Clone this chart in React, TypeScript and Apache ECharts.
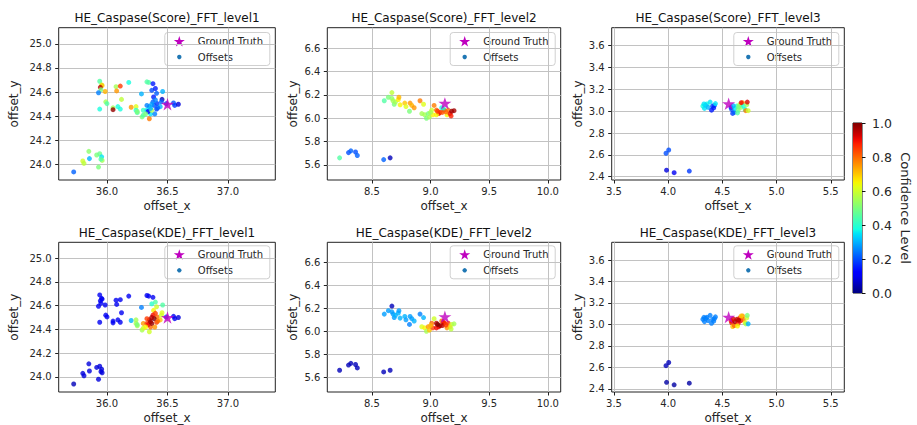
import React, { useEffect, useRef } from 'react';
import * as echarts from 'echarts';

const FONT = 'DejaVu Sans';

const panelTitles = [
  'HE_Caspase(Score)_FFT_level1',
  'HE_Caspase(Score)_FFT_level2',
  'HE_Caspase(Score)_FFT_level3',
  'HE_Caspase(KDE)_FFT_level1',
  'HE_Caspase(KDE)_FFT_level2',
  'HE_Caspase(KDE)_FFT_level3',
];
const xAxisName = 'offset_x';
const yAxisName = 'offset_y';
const legendLabels = ['Ground Truth', 'Offsets'];
const colorbarLabel = 'Confidence Level';
const colorbarTicks = [0, 0.2, 0.4, 0.6, 0.8, 1.0];

// ---- level 1 offsets ----
const level1X = [35.725, 35.8, 35.81, 35.85, 35.855, 35.915, 35.94, 35.956, 35.93, 35.96, 35.95,
  35.94, 35.955, 35.96, 35.945, 35.95, 35.93, 35.985, 35.99, 36.0, 35.94, 36.05, 36.05, 36.075, 36.11, 36.08, 36.12, 36.09, 36.11, 36.18, 36.2, 36.24, 36.24, 36.25,
  36.285, 36.33, 36.345, 36.38, 36.37, 36.4, 36.41, 36.385, 36.46, 36.455, 36.415, 36.38, 36.35, 36.33, 36.3, 36.29, 36.3, 36.35, 36.36, 36.33, 36.41, 36.395, 36.44, 36.34, 36.37,
  36.55, 36.56, 36.59, 36.49, 36.45, 36.39, 36.37, 36.4, 36.36, 36.42, 36.32, 36.25];
const level1Y = [23.94, 24.03, 24.01, 24.11, 24.05, 24.08, 24.09, 24.065, 23.98, 24.035, 24.045,
  24.69, 24.66, 24.655, 24.64, 24.62, 24.595, 24.605, 24.52, 24.505, 24.46, 24.47, 24.455, 24.645, 24.65, 24.61, 24.54, 24.48, 24.46, 24.68, 24.475, 24.48, 24.45, 24.43,
  24.585, 24.685, 24.68, 24.67, 24.615, 24.63, 24.59, 24.56, 24.605, 24.54, 24.505, 24.52, 24.48, 24.49, 24.45, 24.395, 24.41, 24.38, 24.42, 24.45, 24.46, 24.42, 24.48, 24.44, 24.45,
  24.51, 24.49, 24.5, 24.505, 24.52, 24.49, 24.5, 24.535, 24.465, 24.47, 24.42, 24.44];
const level1Score = [0.22, 0.6, 0.58, 0.52, 0.3, 0.5, 0.48, 0.35, 0.5, 0.55, 0.45,
  0.45, 0.58, 0.7, 0.95, 0.5, 0.25, 0.72, 0.55, 0.45, 0.38, 0.55, 0.98, 0.55, 0.85, 0.75, 0.58, 0.38, 0.38, 0.38, 0.75, 0.62, 0.4, 0.45,
  0.3, 0.45, 0.45, 0.15, 0.2, 0.15, 0.22, 0.15, 0.3, 0.05, 0.18, 0.22, 0.3, 0.25, 0.42, 0.5, 0.45, 0.78, 0.35, 0.35, 0.18, 0.25, 0.3, 0.12, 0.55,
  0.2, 0.18, 0.08, 0.2, 0.22, 0.2, 0.28, 0.25, 0.3, 0.22, 0.5, 0.5];
const level1Kde = [0.05, 0.08, 0.08, 0.08, 0.08, 0.08, 0.08, 0.08, 0.08, 0.08, 0.08,
  0.1, 0.1, 0.1, 0.1, 0.1, 0.1, 0.1, 0.1, 0.1, 0.1, 0.1, 0.1, 0.1, 0.1, 0.1, 0.1, 0.1, 0.1, 0.1, 0.3, 0.55, 0.55, 0.55,
  0.25, 0.1, 0.1, 0.1, 0.4, 0.45, 0.6, 0.65, 0.45, 0.62, 0.8, 0.9, 0.95, 0.85, 0.75, 0.55, 0.6, 0.6, 0.8, 0.85, 0.85, 0.75, 0.7, 0.9, 0.98,
  0.1, 0.1, 0.08, 0.2, 0.6, 1.0, 0.95, 0.85, 0.97, 0.8, 0.65, 0.5];

// ---- level 2 offsets ----
const level2X = [8.224, 8.3, 8.32, 8.36, 8.375, 8.6, 8.655,
  8.605, 8.64, 8.67, 8.67, 8.68, 8.69, 8.7, 8.725, 8.73, 8.74, 8.78, 8.79, 8.82, 8.825, 8.84, 8.86, 8.91, 8.94,
  8.925, 8.95, 8.965, 8.98, 8.99, 9.01, 9.02, 9.03, 9.05, 9.07, 9.08, 9.095, 9.115, 9.14, 9.15, 9.165, 9.18, 9.2, 9.175, 9.11, 9.05, 9.06, 9.1, 9.0, 9.13];
const level2Y = [5.66, 5.705, 5.72, 5.71, 5.68, 5.645, 5.66,
  6.15, 6.18, 6.22, 6.17, 6.15, 6.12, 6.14, 6.16, 6.18, 6.115, 6.13, 6.1, 6.06, 6.13, 6.11, 6.09, 6.15, 6.12,
  6.04, 6.03, 6.0, 6.04, 6.01, 6.07, 6.03, 6.11, 6.07, 6.04, 6.05, 6.09, 6.07, 6.03, 6.07, 6.04, 6.06, 6.065, 6.02, 6.08, 6.03, 6.06, 6.05, 6.05, 6.055];
const level2Score = [0.45, 0.2, 0.22, 0.2, 0.22, 0.22, 0.05,
  0.45, 0.5, 0.58, 0.52, 0.55, 0.5, 0.55, 0.65, 0.72, 0.65, 0.7, 0.62, 0.5, 0.75, 0.72, 0.75, 0.78, 0.62,
  0.55, 0.55, 0.5, 0.5, 0.55, 0.6, 0.65, 0.78, 0.8, 0.88, 0.9, 0.38, 0.9, 0.65, 0.78, 0.9, 0.97, 0.97, 0.88, 0.4, 0.65, 0.85, 0.82, 0.55, 0.8];
const level2Kde = [0.05, 0.05, 0.05, 0.05, 0.05, 0.05, 0.05,
  0.28, 0.28, 0.05, 0.28, 0.28, 0.28, 0.3, 0.3, 0.28, 0.3, 0.3, 0.28, 0.25, 0.28, 0.28, 0.3, 0.25, 0.3,
  0.62, 0.65, 0.55, 0.75, 0.7, 0.8, 0.85, 0.6, 0.95, 0.9, 0.98, 0.8, 0.92, 0.75, 0.85, 0.7, 0.6, 0.55, 0.58, 0.88, 0.9, 1.0, 0.95, 0.72, 0.85];

// ---- level 3 offsets ----
const level3X = [3.98, 4.005, 3.985, 4.055, 4.195,
  4.32, 4.335, 4.357, 4.37, 4.387, 4.41, 4.4, 4.427, 4.42, 4.436, 4.345, 4.33,
  4.58, 4.585, 4.595, 4.61, 4.616, 4.634, 4.646, 4.66, 4.67, 4.686, 4.695, 4.71, 4.725, 4.73, 4.716, 4.738, 4.674, 4.64, 4.6, 4.65];
const level3Y = [2.615, 2.645, 2.46, 2.437, 2.452,
  3.047, 3.026, 3.066, 3.035, 3.084, 3.047, 3.01, 3.053, 3.03, 3.07, 3.056, 3.066,
  3.035, 3.017, 2.98, 2.99, 3.026, 3.047, 3.01, 3.06, 3.035, 3.078, 3.047, 3.016, 3.06, 3.084, 3.005, 3.005, 3.078, 2.985, 3.05, 3.04];
const level3Score = [0.2, 0.2, 0.08, 0.1, 0.18,
  0.38, 0.35, 0.38, 0.3, 0.35, 0.18, 0.15, 0.2, 0.15, 0.35, 0.32, 0.35,
  0.15, 0.2, 0.18, 0.22, 0.35, 0.4, 0.5, 0.58, 0.55, 0.75, 0.38, 0.4, 0.55, 0.92, 0.78, 0.6, 0.9, 0.45, 0.3, 0.5];
const level3Kde = [0.05, 0.05, 0.03, 0.03, 0.03,
  0.25, 0.25, 0.25, 0.25, 0.25, 0.25, 0.25, 0.25, 0.25, 0.25, 0.25, 0.25,
  0.85, 0.9, 0.7, 0.8, 0.97, 0.95, 0.9, 0.85, 0.9, 0.75, 0.8, 0.65, 0.6, 0.5, 0.55, 0.3, 0.7, 0.65, 0.92, 0.95];

const groundTruthX = [36.5, 9.122, 4.558];
const groundTruthY = [24.5, 6.128, 3.068];

// axis ranges and tick labels per level
const xMin = [35.601, 8.119, 3.479];
const xMax = [37.391, 10.11, 5.625];
const yMin = [23.873, 5.47, 2.37];
const yMax = [25.133, 6.777, 3.765];
const level1XTicks = [36.0, 36.5, 37.0];
const level2XTicks = [8.5, 9.0, 9.5, 10.0];
const level3XTicks = [3.5, 4.0, 4.5, 5.0, 5.5];
const level1YTicks = [24.0, 24.2, 24.4, 24.6, 24.8, 25.0];
const level2YTicks = [5.6, 5.8, 6.0, 6.2, 6.4, 6.6];
const level3YTicks = [2.4, 2.6, 2.8, 3.0, 3.2, 3.4, 3.6];

const levels = [
  { x: level1X, y: level1Y, score: level1Score, kde: level1Kde, xt: level1XTicks, yt: level1YTicks },
  { x: level2X, y: level2Y, score: level2Score, kde: level2Kde, xt: level2XTicks, yt: level2YTicks },
  { x: level3X, y: level3Y, score: level3Score, kde: level3Kde, xt: level3XTicks, yt: level3YTicks },
];

// layout (pixels)
const colLeft = [58.7, 327.3, 611.7];
const colWidth = [216.6, 233.4, 232.6];
const rowTop = [27.7, 242.3];
const rowHeight = [152.3, 150.4];
const yNameGap = [39, 28, 28];

function interp(v: number, pts: number[][]) {
  for (let i = 1; i < pts.length; i++) {
    if (v <= pts[i][0]) {
      const t = (v - pts[i - 1][0]) / (pts[i][0] - pts[i - 1][0]);
      return pts[i - 1][1] + t * (pts[i][1] - pts[i - 1][1]);
    }
  }
  return pts[pts.length - 1][1];
}
function jet(v: number) {
  const r = interp(v, [[0, 0], [0.35, 0], [0.66, 1], [0.89, 1], [1, 0.5]]);
  const g = interp(v, [[0, 0], [0.125, 0], [0.375, 1], [0.64, 1], [0.91, 0], [1, 0]]);
  const b = interp(v, [[0, 0.5], [0.11, 1], [0.34, 1], [0.65, 0], [1, 0]]);
  const h = (c: number) => Math.round(c * 255).toString(16).padStart(2, '0');
  return '#' + h(r) + h(g) + h(b);
}
const jetColors: string[] = [];
for (let i = 0; i <= 40; i++) jetColors.push(jet(i / 40));

function starPts(cx: number, cy: number, R: number, r: number) {
  const pts: number[][] = [];
  for (let k = 0; k < 10; k++) {
    const a = -Math.PI / 2 + (k * Math.PI) / 5;
    const rad = k % 2 === 0 ? R : r;
    pts.push([cx + rad * Math.cos(a), cy + rad * Math.sin(a)]);
  }
  return pts;
}
const starPath =
  'path://' +
  starPts(50, 50, 50, 19.1)
    .map((p, i) => (i ? 'L' : 'M') + p[0].toFixed(2) + ' ' + p[1].toFixed(2))
    .join(' ') +
  ' Z';

const MAGENTA = '#bf00bf';
const TXT = '#262626';

export default function App() {
  const ref = useRef<HTMLDivElement>(null);
  useEffect(() => {
    if (!ref.current) return;
    const chart = echarts.init(ref.current, undefined, { renderer: 'svg' });
    const grids: any[] = [];
    const xAxes: any[] = [];
    const yAxes: any[] = [];
    const series: any[] = [];
    const graphics: any[] = [];
    const scatterIdx: number[] = [];

    for (let r = 0; r < 2; r++) {
      for (let c = 0; c < 3; c++) {
        const i = r * 3 + c;
        const lv = levels[c];
        grids.push({
          left: colLeft[c], top: rowTop[r], width: colWidth[c], height: rowHeight[r],
          show: true, borderColor: '#222', borderWidth: 1, backgroundColor: 'transparent',
        });
        xAxes.push({
          gridIndex: i, type: 'value', min: xMin[c], max: xMax[c],
          minInterval: 0.5, maxInterval: 0.5, splitNumber: 4,
          axisLine: { show: false },
          axisTick: { show: true, length: 3.5, customValues: lv.xt, lineStyle: { color: '#222', width: 1 } },
          axisLabel: {
            customValues: lv.xt, fontSize: 10, color: TXT, margin: 6, fontFamily: FONT,
            formatter: (v: number) => v.toFixed(1),
          },
          splitLine: { show: true, lineStyle: { color: '#c2c2c2', width: 1 } },
          name: xAxisName, nameLocation: 'middle', nameGap: 20,
          nameTextStyle: { fontSize: 12, color: TXT, fontFamily: FONT },
        });
        yAxes.push({
          gridIndex: i, type: 'value', min: yMin[c], max: yMax[c],
          minInterval: 0.2, maxInterval: 0.2, splitNumber: 6,
          axisLine: { show: false },
          axisTick: { show: true, length: 3.5, customValues: lv.yt, lineStyle: { color: '#222', width: 1 } },
          axisLabel: {
            customValues: lv.yt, fontSize: 10, color: TXT, margin: 7, fontFamily: FONT,
            formatter: (v: number) => v.toFixed(1),
          },
          splitLine: { show: true, lineStyle: { color: '#c2c2c2', width: 1 } },
          name: yAxisName, nameLocation: 'middle', nameGap: yNameGap[c], nameRotate: 90,
          nameTextStyle: { fontSize: 12, color: TXT, fontFamily: FONT },
        });
        const conf = r === 0 ? lv.score : lv.kde;
        scatterIdx.push(series.length);
        series.push({
          type: 'scatter', name: legendLabels[1], xAxisIndex: i, yAxisIndex: i,
          symbol: 'circle', symbolSize: 5, silent: true,
          data: lv.x.map((x, k) => [x, lv.y[k], conf[k]]),
          z: 2,
        });
        series.push({
          type: 'scatter', name: legendLabels[0], xAxisIndex: i, yAxisIndex: i,
          symbol: starPath, symbolSize: 13, symbolKeepAspect: true, silent: true,
          itemStyle: { color: MAGENTA },
          data: [[groundTruthX[c], groundTruthY[c]]],
          z: 5,
        });
        // title
        graphics.push({
          type: 'text', x: colLeft[c] + colWidth[c] / 2, y: rowTop[r] - 9.5,
          style: { text: panelTitles[i], align: 'center', verticalAlign: 'middle', fontSize: 12, fontFamily: FONT, fill: '#111' },
        });
        // legend
        const bw = 105, bh = 33;
        const bx = colLeft[c] + colWidth[c] - 5.5 - bw;
        const by = rowTop[r] + (r === 0 ? 4.8 : 3.5);
        const sp = starPts(bx + 14.5, by + 8.6, 5.8, 2.2).map((p) => [p[0], p[1] + 0.6]);
        graphics.push({
          type: 'group', z: 100,
          children: [
            { type: 'rect', shape: { x: bx, y: by, width: bw, height: bh, r: 3 }, style: { fill: 'rgba(255,255,255,0.85)', stroke: '#d0d0d0', lineWidth: 1 } },
            { type: 'polygon', shape: { points: sp }, style: { fill: MAGENTA } },
            { type: 'circle', shape: { cx: bx + 14.5, cy: by + 24.5, r: 2.2 }, style: { fill: '#1f77b4' } },
            { type: 'text', x: bx + 33, y: by + 9, style: { text: legendLabels[0], fontSize: 10, fontFamily: FONT, fill: TXT, verticalAlign: 'middle' } },
            { type: 'text', x: bx + 33, y: by + 24.5, style: { text: legendLabels[1], fontSize: 10, fontFamily: FONT, fill: TXT, verticalAlign: 'middle' } },
          ],
        });
      }
    }

    // colorbar
    grids.push({ left: 853, top: 123, width: 9, height: 170, show: true, borderColor: '#111', borderWidth: 1, backgroundColor: 'transparent' });
    xAxes.push({ gridIndex: 6, type: 'category', data: ['c'], show: false, boundaryGap: true });
    yAxes.push({
      gridIndex: 6, type: 'value', min: 0, max: 1, interval: 0.2, position: 'right',
      axisLine: { show: false },
      axisTick: { show: true, length: 3.5, customValues: colorbarTicks, lineStyle: { color: '#111' } },
      axisLabel: { customValues: colorbarTicks, fontSize: 12.5, color: TXT, margin: 10, fontFamily: FONT, formatter: (v: number) => v.toFixed(1) },
      splitLine: { show: false },
      name: colorbarLabel, nameLocation: 'middle', nameRotate: -90, nameGap: 37,
      nameTextStyle: { fontSize: 13, color: TXT, fontFamily: FONT },
    });
    const stops = jetColors.map((col, k) => ({ offset: k / (jetColors.length - 1), color: col }));
    series.push({
      type: 'bar', xAxisIndex: 6, yAxisIndex: 6, data: [1], barWidth: '100%', silent: true,
      itemStyle: { color: new echarts.graphic.LinearGradient(0, 1, 0, 0, stops) },
    });

    chart.setOption({
      animation: false,
      backgroundColor: '#ffffff',
      textStyle: { fontFamily: FONT },
      grid: grids,
      xAxis: xAxes,
      yAxis: yAxes,
      visualMap: {
        type: 'continuous', show: false, min: 0, max: 1, dimension: 2,
        seriesIndex: scatterIdx, inRange: { color: jetColors },
      },
      series,
      graphic: graphics,
    });
    return () => chart.dispose();
  }, []);
  return <div ref={ref} style={{ position: 'fixed', left: 0, top: 0, width: 917, height: 425 }} />;
}
